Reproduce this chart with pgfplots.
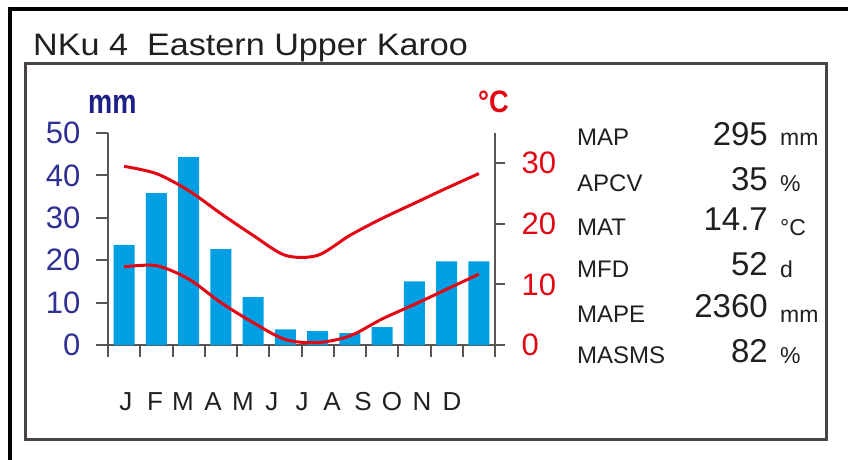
\documentclass[border=0pt]{standalone}
\usepackage{fontspec}
\setmainfont{Liberation Sans}
\usepackage{pgfplots}
\pgfplotsset{compat=1.18}
\definecolor{barblue}{HTML}{009FE3}
\definecolor{tred}{HTML}{E30613}
\definecolor{navy}{HTML}{2E3192}
\definecolor{mmnavy}{HTML}{1D2088}
\definecolor{axgray}{HTML}{5A5555}
\definecolor{framegray}{HTML}{4A4444}
\definecolor{txt}{HTML}{231F20}
\newcommand{\fs}[1]{\fontsize{#1}{#1}\selectfont}
\begin{document}
\begin{tikzpicture}
\useasboundingbox (0,0) rectangle (848pt,-459pt);
\clip (0,0) rectangle (848pt,-459pt);
% frames
\draw[black, line width=3.5pt] (10pt,-480pt) -- (10pt,-9pt) -- (870pt,-9pt);
\draw[framegray, line width=3pt] (25pt,-63.3pt) rectangle (826.7pt,-439pt);
% title
\node[anchor=base west, inner sep=0pt, text=txt, font=\fs{33}] at (33pt,-55pt) {\scalebox{1.035}[0.94]{NKu 4\ \ Eastern Upper Karoo}};
% unit labels
\node[anchor=base west, inner sep=0pt, text=mmnavy, font=\fs{34}\bfseries] at (88pt,-113pt) {\scalebox{0.8}[1]{mm}};
\node[anchor=base west, inner sep=0pt, text=tred, font=\fs{31}\bfseries] at (478pt,-112pt) {\scalebox{0.88}[1]{°C}};

\begin{axis}[
  at={(108pt,-345pt)}, anchor=south west,
  scale only axis, width=387pt, height=212pt,
  xmin=0.5, xmax=12.5, ymin=0, ymax=50,
  axis x line*=bottom, axis y line*=left,
  axis line style={axgray, line width=2pt, -},
  ytick={0,10,20,30,40,50},
  xtick={1.058,1.957,2.826,3.756,4.686,5.585,6.516,7.446,8.407,9.306,10.236,11.167},
  xticklabels={J,F,M,A,M,J,J,A,S,O,N,D},
  minor xtick={0.5,1.5,...,12.5},
  tick align=outside,
  major tick length=12pt, minor tick length=12pt,
  tick style={axgray, line width=2pt},
  major x tick style={draw=none},
  /pgf/number format/assume math mode=true,
  yticklabel style={font=\fs{31}, text=navy, xshift=-12pt},
  xticklabel style={font=\fs{26}, text=txt, yshift=-32pt},
]
\addplot[ybar, bar width=21pt, fill=barblue, draw=none] coordinates {
(1,23.6) (2,35.8) (3,44.3) (4,22.6) (5,11.3) (6,3.7)
(7,3.3) (8,2.8) (9,4.2) (10,15.0) (11,19.7) (12,19.7)};
\end{axis}

\begin{axis}[
  at={(108pt,-345pt)}, anchor=south west,
  scale only axis, width=387pt, height=212pt,
  xmin=0.5, xmax=12.5, ymin=0, ymax=35,
  axis x line=none, axis y line*=right,
  axis line style={axgray, line width=2pt, -},
  ytick={0,10,20,30},
  tick align=outside, major tick length=10pt,
  tick style={axgray, line width=2pt},
  /pgf/number format/assume math mode=true,
  yticklabel style={font=\fs{31}, text=tred, xshift=13pt},
]
\addplot[tred, line width=3pt, smooth] coordinates {
(1,29.5) (2,28.3) (3,25.5) (4,21.7) (5,18.1) (6,14.8)
(7,14.8) (8,18.1) (9,20.9) (10,23.4) (11,25.9) (12,28.3)};
\addplot[tred, line width=3pt, smooth] coordinates {
(1,12.9) (2,13.1) (3,10.9) (4,7.0) (5,3.7) (6,0.9)
(7,0.4) (8,1.5) (9,4.3) (10,6.7) (11,9.2) (12,11.7)};
\end{axis}

% statistics
\foreach \lab/\val/\un/\yb/\yv in {MAP/295/mm/145/145, APCV/35/\%/191/190, MAT/14.7/°C/235/230, MFD/52/d/277/275, MAPE/2360/mm/322/317, MASMS/82/\%/363/362}{
  \node[anchor=base west, inner sep=0pt, text=txt, font=\fs{24}] at (577pt,-\yb pt) {\lab};
  \node[anchor=base east, inner sep=0pt, text=txt, font=\fs{33}] at (768pt,-\yv pt) {\val};
  \node[anchor=base west, inner sep=0pt, text=txt, font=\fs{23}] at (780pt,-\yb pt) {\un};
}
\end{tikzpicture}
\end{document}
